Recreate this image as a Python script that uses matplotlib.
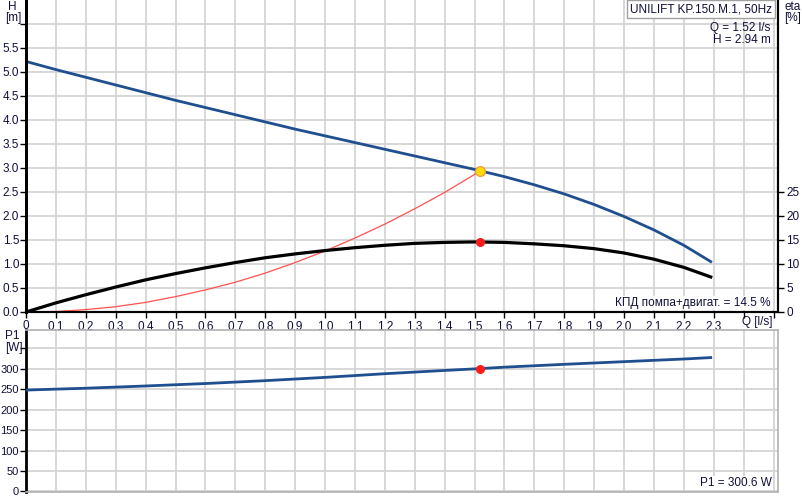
import numpy as np
import matplotlib.pyplot as plt

plt.rcParams['font.family'] = ['Liberation Sans', 'DejaVu Sans']
plt.rcParams['font.size'] = 8.5

# pump curve H [m] vs Q [l/s]
q_h = [0, 0.1, 0.2, 0.3, 0.4, 0.5, 0.6, 0.7, 0.8, 0.9, 1.0, 1.1, 1.2, 1.3, 1.4, 1.5,
       1.52, 1.6, 1.7, 1.8, 1.9, 2.0, 2.1, 2.2, 2.29]
h_vals = [5.22, 5.05, 4.89, 4.73, 4.57, 4.41, 4.26, 4.11, 3.96, 3.81, 3.67, 3.53, 3.39,
          3.25, 3.11, 2.97, 2.94, 2.82, 2.65, 2.46, 2.24, 1.99, 1.71, 1.39, 1.05]

# efficiency eta [%]
q_eta = [0, 0.1, 0.2, 0.3, 0.4, 0.5, 0.6, 0.7, 0.8, 0.9, 1.0, 1.1, 1.2, 1.3, 1.4, 1.5,
         1.6, 1.7, 1.8, 1.9, 2.0, 2.1, 2.2, 2.29]
eta_vals = [0, 1.9, 3.6, 5.2, 6.7, 8.0, 9.2, 10.3, 11.3, 12.1, 12.8, 13.4, 13.9, 14.3,
            14.5, 14.6, 14.5, 14.2, 13.8, 13.2, 12.3, 11.0, 9.3, 7.3]

# system curve (red)
q_sys = [0, 0.1, 0.2, 0.3, 0.4, 0.5, 0.6, 0.7, 0.8, 0.9, 1.0, 1.1, 1.2, 1.3, 1.4, 1.52]
h_sys = [0, 0.01, 0.05, 0.11, 0.20, 0.32, 0.46, 0.62, 0.81, 1.03, 1.27, 1.54, 1.83,
         2.15, 2.49, 2.94]

# power P1 [W]
q_p = [0, 0.2, 0.4, 0.6, 0.8, 1.0, 1.2, 1.4, 1.52, 1.6, 1.8, 2.0, 2.2, 2.29]
p_vals = [248, 252.5, 258, 264, 271, 279, 288, 296, 300.6, 304, 311, 317.5, 324, 327.5]

# duty point
q_op = 1.52
h_op = 2.94
eta_op = 14.5
p_op = 300.6

xticks = [i / 10 for i in range(0, 25)]
xlabels = ['0'] + [('%.1f' % t).replace('.', ',') for t in xticks[1:24]] + ['']

txt_col = '#10103a'
grid_col = '#d4d4d4'
blue = '#1f4f8e'

fig = plt.figure(figsize=(8.03, 5.0), dpi=100)
ax = fig.add_axes([26 / 803, 1 - 312 / 500, 752 / 803, 312 / 500])
ax2 = ax.twinx()
axp = fig.add_axes([26 / 803, 1 - 492 / 500, 752 / 803, 162 / 500])

# top panel
ax.set_xlim(0, 2.515)
ax.set_ylim(0, 6.5)
ax2.set_ylim(0, 65)
ax.set_xticks(xticks)
ax.set_xticks([2.5], minor=True)
ax.set_xticklabels(xlabels, color=txt_col)
ax.set_yticks([i * 0.5 for i in range(12)])
ax.set_yticklabels(['%.1f' % (i * 0.5) for i in range(12)], color=txt_col)
ax.set_yticks([6.0], minor=True)
ax.tick_params(which='both', direction='out', length=4, width=1, pad=2)
ax.tick_params(axis='y', pad=1)
ax.grid(True, color=grid_col, linewidth=1.3)
ax.set_axisbelow(True)
ax.axvline(2.5, color=grid_col, linewidth=1.3, zorder=0)
ax.axhline(6.0, color=grid_col, linewidth=1.3, zorder=0)

ax2.set_yticks([0, 5, 10, 15, 20, 25])
ax2.tick_params(direction='out', length=4, width=1, pad=2, labelcolor=txt_col)

for a in (ax, ax2):
    a.spines['top'].set_visible(False)
    a.spines['left'].set_linewidth(2)
    a.spines['bottom'].set_linewidth(1.5)
    a.spines['right'].set_linewidth(1.5)

ax.plot(q_sys, h_sys, color='#ff5050', linewidth=0.9, zorder=3)
ax.plot(q_h, h_vals, color=blue, linewidth=2, zorder=4)
ax2.plot(q_eta, eta_vals, color='black', linewidth=2.3, zorder=4)
ax.plot([q_op], [h_op], 'o', markersize=7, markerfacecolor='#ffdd00',
        markeredgecolor='#f0a040', markeredgewidth=1, zorder=6)
ax2.plot([q_op], [eta_op], 'o', markersize=5.5, color='#ff1a1a', zorder=6)

ax.text(-0.045, 6.36, 'H', ha='center', va='center', color=txt_col, clip_on=False)
ax.text(-0.042, 6.13, '[m]', ha='center', va='center', color=txt_col, clip_on=False)
ax.text(2.565, 6.36, 'eta', ha='center', va='center', color=txt_col, clip_on=False)
ax.text(2.565, 6.13, '[%]', ha='center', va='center', color=txt_col, clip_on=False)
ax.text(2.497, -0.2, 'Q [l/s]', ha='right', va='center', color=txt_col, clip_on=False)

ax.text(2.495, 6.31, 'UNILIFT KP.150.M.1, 50Hz', ha='right', va='center', color=txt_col,
        bbox=dict(boxstyle='square,pad=0.25', facecolor='white', edgecolor='#a0a0a0',
                  linewidth=1), zorder=7)
ax.text(2.49, 5.92, 'Q = 1.52 l/s', ha='right', va='center', color=txt_col, zorder=7)
ax.text(2.49, 5.67, 'H = 2.94 m', ha='right', va='center', color=txt_col, zorder=7)
ax.text(2.49, 0.19, 'КПД помпа+двигат. = 14.5 %', ha='right', va='center',
        color=txt_col, zorder=7,
        bbox=dict(boxstyle='square,pad=0.1', facecolor='white', edgecolor='none'))

# bottom panel
axp.set_xlim(0, 2.515)
axp.set_ylim(-1.5, 395)
axp.set_xticks(xticks + [2.5])
axp.tick_params(axis='x', length=0, labelbottom=False)
axp.set_yticks([0, 50, 100, 150, 200, 250, 300, 350])
axp.set_yticklabels(['0', '50', '100', '150', '200', '250', '300', ''], color=txt_col,
                    fontsize=8)
axp.tick_params(axis='y', direction='out', length=4, width=1, pad=1)
axp.grid(True, color=grid_col, linewidth=1.3)
axp.set_axisbelow(True)
axp.spines['left'].set_linewidth(2)
for s in ('top', 'right', 'bottom'):
    axp.spines[s].set_color('#b0b0b0')
    axp.spines[s].set_linewidth(1.2)

axp.plot(q_p, p_vals, color=blue, linewidth=2, zorder=4)
axp.plot([q_op], [p_op], 'o', markersize=5.5, color='#ff1a1a', zorder=6)

axp.text(-0.045, 381, 'P1', ha='center', va='center', color=txt_col, clip_on=False)
axp.text(-0.042, 350, '[W]', ha='center', va='center', color=txt_col, clip_on=False)
axp.text(2.495, 20, 'P1 = 300.6 W', ha='right', va='center', color=txt_col, zorder=7,
         bbox=dict(boxstyle='square,pad=0.1', facecolor='white', edgecolor='none'))

fig.savefig('out.png', dpi=100)
